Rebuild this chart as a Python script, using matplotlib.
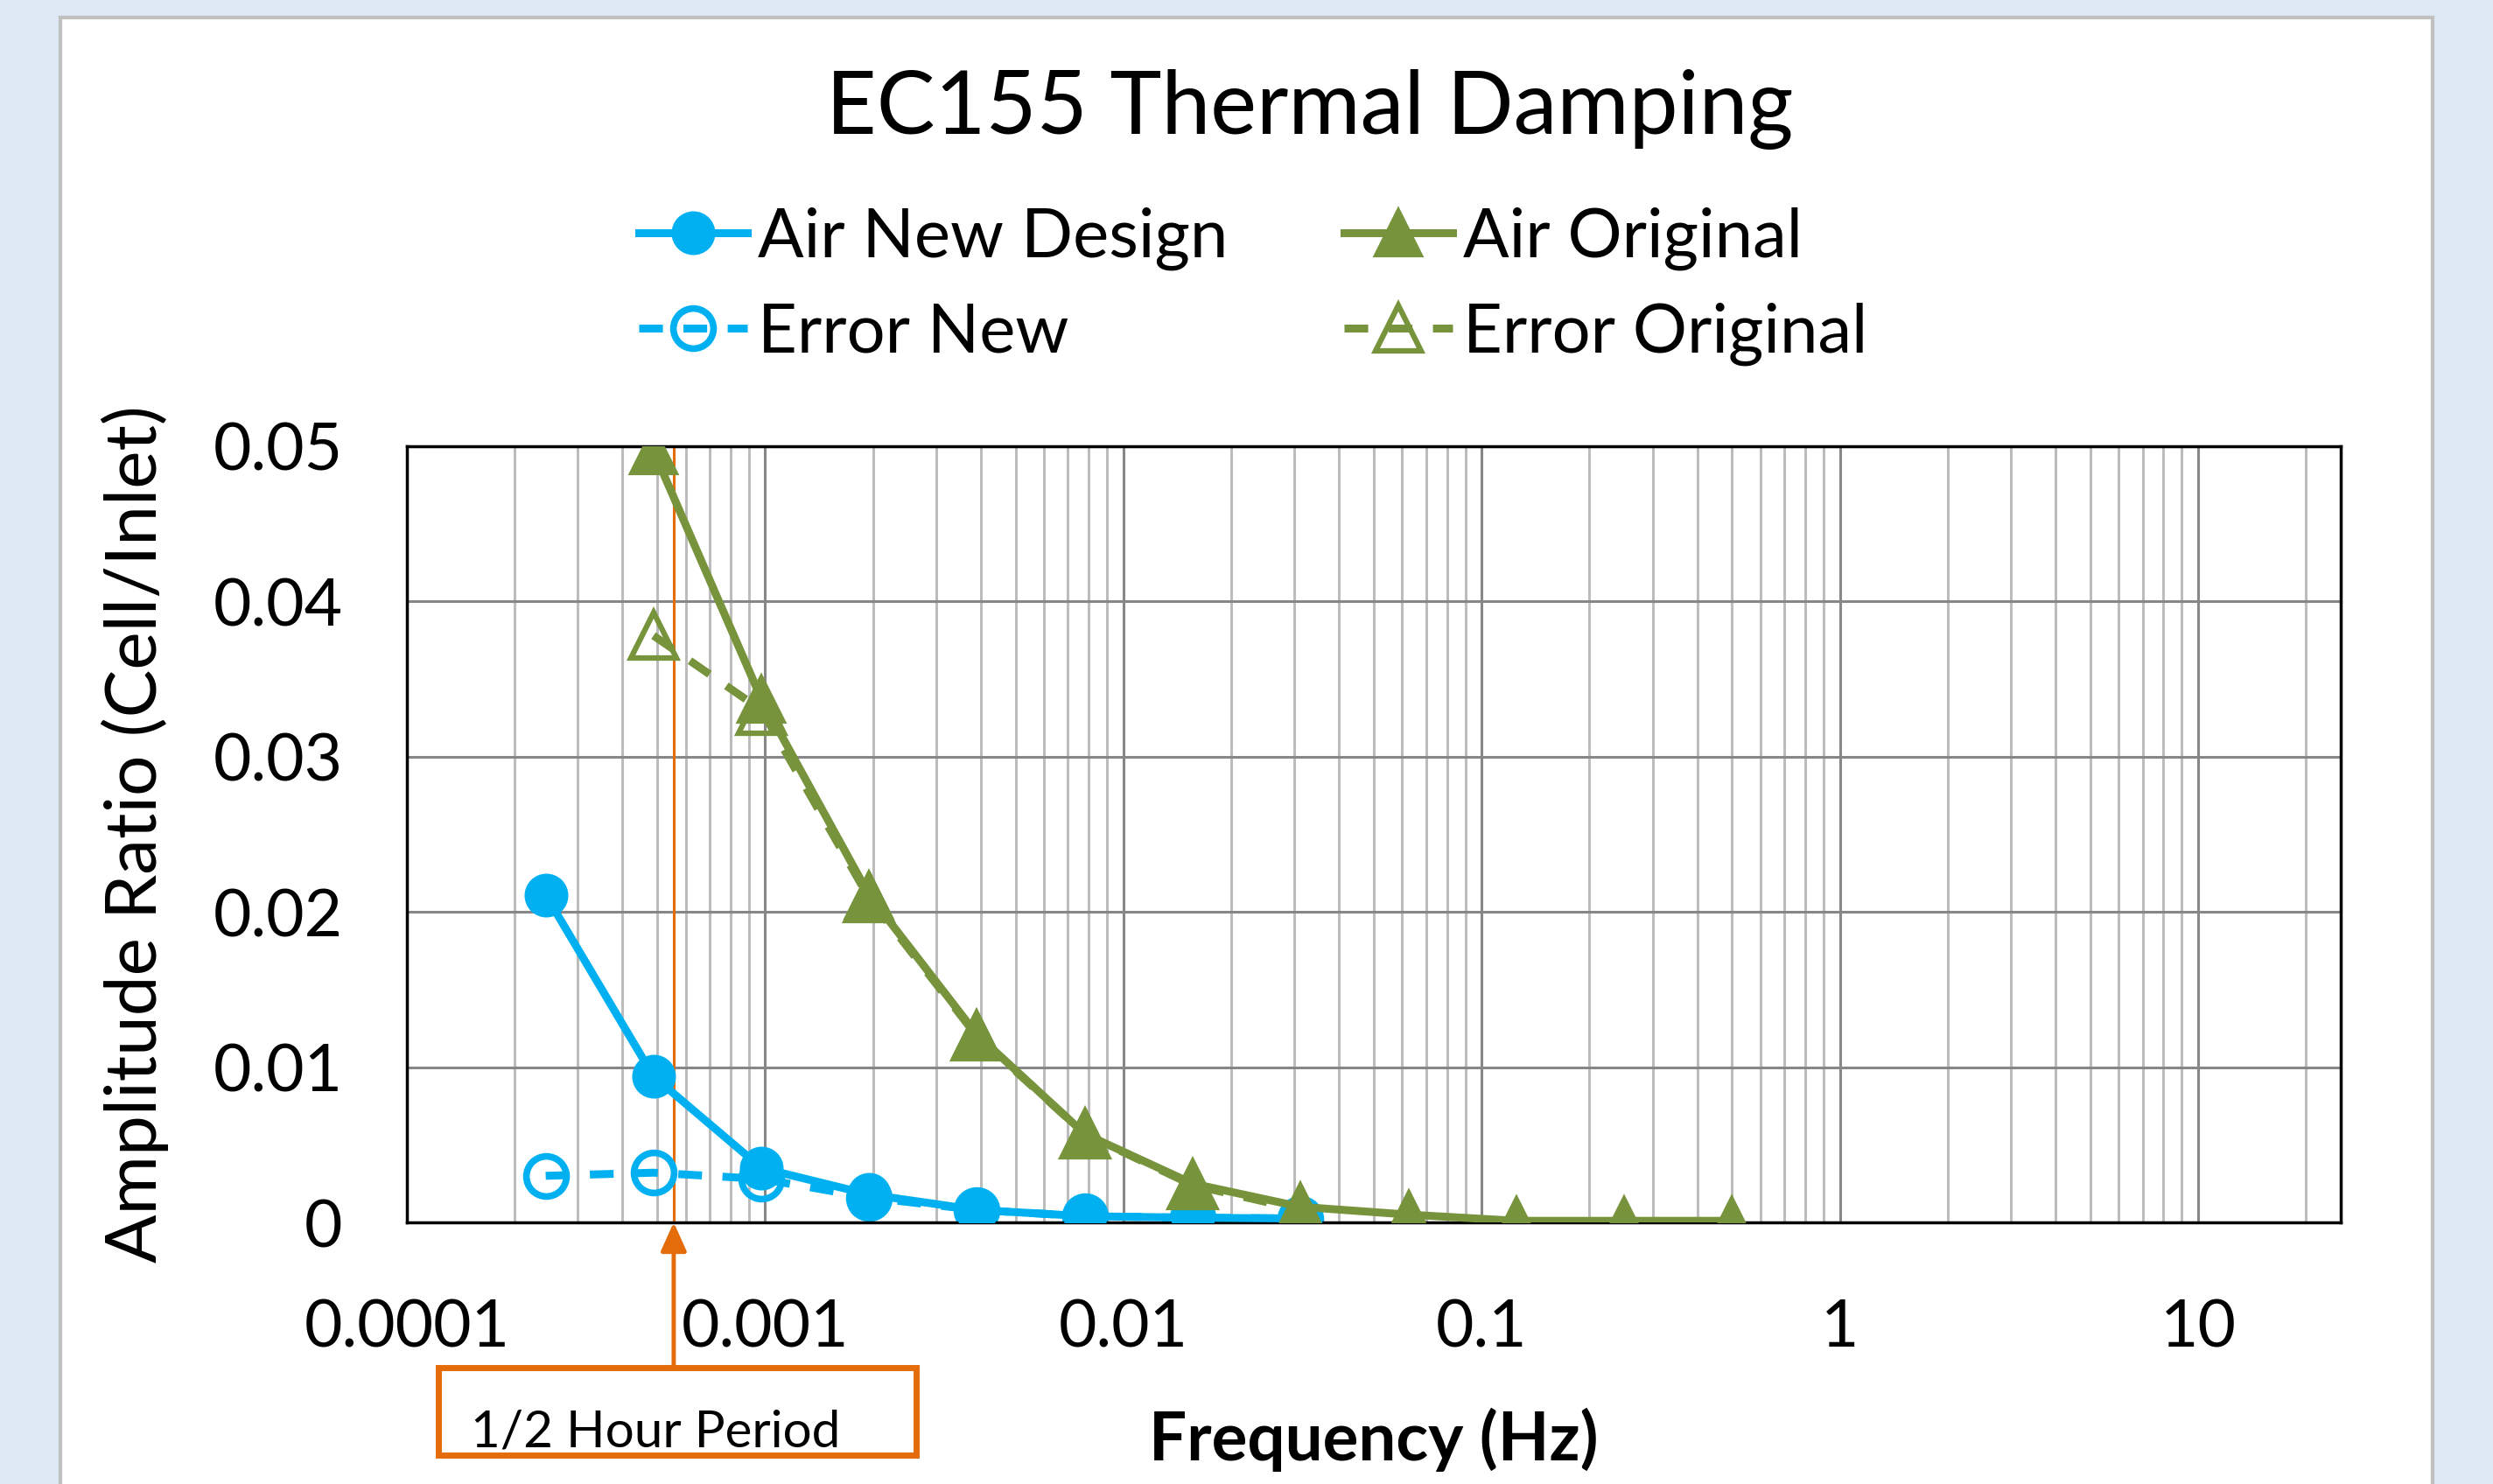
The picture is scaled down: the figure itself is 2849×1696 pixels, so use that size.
"""EC155 thermal damping: amplitude ratio vs frequency, new design vs original"""
import matplotlib.pyplot as plt
from matplotlib.patches import Rectangle

plt.rcParams['font.family'] = ['Lato', 'DejaVu Sans']

# frequencies (Hz), doubling steps from 1/4096 Hz
freq = [0.000244, 0.000488, 0.000977, 0.00195, 0.0039, 0.0078,
        0.0156, 0.03125, 0.0625, 0.125, 0.25, 0.5]

air_new = [0.0211, 0.0094, 0.0035, 0.0018, 0.0008, 0.0004, 0.0003, 0.00025]
err_new = [0.0030, 0.0032, 0.0028, 0.0016, 0.0008, 0.0004, 0.0003, 0.00025]
air_orig = [0.0497, 0.0337, 0.0211, 0.0121, 0.0057, 0.0025, 0.0010,
            0.0005, 0.0001, 0.0001, 0.0001]
err_orig = [0.0378, 0.0330, 0.0209, 0.0120, 0.0057, 0.0024, 0.0008]

half_hour = 1 / 1800.0

BLUE = '#00b0f0'
GREEN = '#77933c'
ORANGE = '#e46c0a'
W, H = 2849, 1696

fig = plt.figure(figsize=(W / 100, H / 100), dpi=100, facecolor='#dee9f5')
fig.patches.append(Rectangle((69 / W, -0.01), (2780 - 69) / W, (H - 20) / H + 0.01,
                             transform=fig.transFigure, facecolor='white',
                             edgecolor='#c0c0c0', linewidth=3, zorder=-10))

ax = fig.add_axes([465 / W, (H - 1397) / H, (2675 - 465) / W, (1397 - 510) / H])
ax.set_zorder(1)

# stacking: Error New < Air New < Error Original < Air Original
l1, = ax.plot(freq[:len(air_new)], air_new, '-o', color=BLUE, lw=6.5,
              markersize=33, markeredgewidth=3, label='Air New Design', zorder=3)
l2, = ax.plot(freq[1:1 + len(air_orig)], air_orig, '-^', color=GREEN, lw=6.5,
              markersize=37, markeredgewidth=3, label='Air Original', zorder=5)
l3, = ax.plot(freq[:len(err_new)], err_new, '--o', color=BLUE, lw=6.5,
              markersize=33, markeredgewidth=5.5, markerfacecolor='none',
              dashes=(3, 2.6), label='Error New', zorder=2)
l4, = ax.plot(freq[1:1 + len(err_orig)], err_orig, '--^', color=GREEN, lw=6.5,
              markersize=37, markeredgewidth=4.5, markerfacecolor='none',
              dashes=(3, 2.6), label='Error Original', zorder=4)

ax.axvline(half_hour, color=ORANGE, lw=2.2, zorder=1.5)

ax.set_xscale('log')
ax.set_xlim(1e-4, 25)
ax.set_ylim(0, 0.05)
ax.set_yticks([0, 0.01, 0.02, 0.03, 0.04, 0.05])
ax.set_yticklabels(['0', '0.01', '0.02', '0.03', '0.04', '0.05'])
ax.set_xticks([1e-4, 1e-3, 1e-2, 1e-1, 1, 10])
ax.set_xticklabels(['0.0001', '0.001', '0.01', '0.1', '1', '10'])
ax.tick_params(axis='both', which='both', length=0, labelsize=54)
ax.tick_params(axis='y', pad=53)
ax.tick_params(axis='x', pad=62)

ax.grid(True, which='major', color='#878787', lw=2.2)
ax.grid(True, which='minor', axis='x', color='#bcbcbc', lw=2.2)
ax.set_axisbelow(True)
for sp in ax.spines.values():
    sp.set_color('black')
    sp.set_linewidth(2.5)

ax.set_ylabel('Amplitude Ratio (Cell/Inlet)', fontsize=59, labelpad=36)
ax.set_xlabel('Frequency (Hz)', fontsize=55, fontweight='bold', labelpad=41)

fig.text(1497 / W, 1 - 125 / H, 'EC155 Thermal Damping',
         fontsize=72, ha='center', va='center')

fig.legend(handles=[l1, l3, l2, l4], ncol=2, loc='center',
           bbox_to_anchor=(1432 / W, 1 - 327 / H), frameon=False,
           fontsize=56, handlelength=1.6, handletextpad=0.15,
           columnspacing=1.7, labelspacing=0.47)

# half hour period callout
box_l, box_r, box_t, box_b = 501, 1047, 1563, 1663
fig.patches.append(Rectangle((box_l / W, 1 - box_b / H), (box_r - box_l) / W,
                             (box_b - box_t) / H, transform=fig.transFigure,
                             facecolor='white', edgecolor=ORANGE, linewidth=5,
                             zorder=2))
fig.text(538 / W, 1 - 1637 / H, '1/2 Hour Period', fontsize=42,
         ha='left', va='center', zorder=3)
ax.annotate('', xy=(half_hour, 0), xycoords=('data', 'axes fraction'),
            xytext=(half_hour, 1 - box_t / H), textcoords=('data', 'figure fraction'),
            arrowprops=dict(arrowstyle='-|>,head_length=1.0,head_width=0.45',
                            color=ORANGE, lw=3.5, mutation_scale=20,
                            shrinkA=0, shrinkB=0),
            annotation_clip=False)

plt.savefig('out.png', dpi=100, facecolor=fig.get_facecolor())
